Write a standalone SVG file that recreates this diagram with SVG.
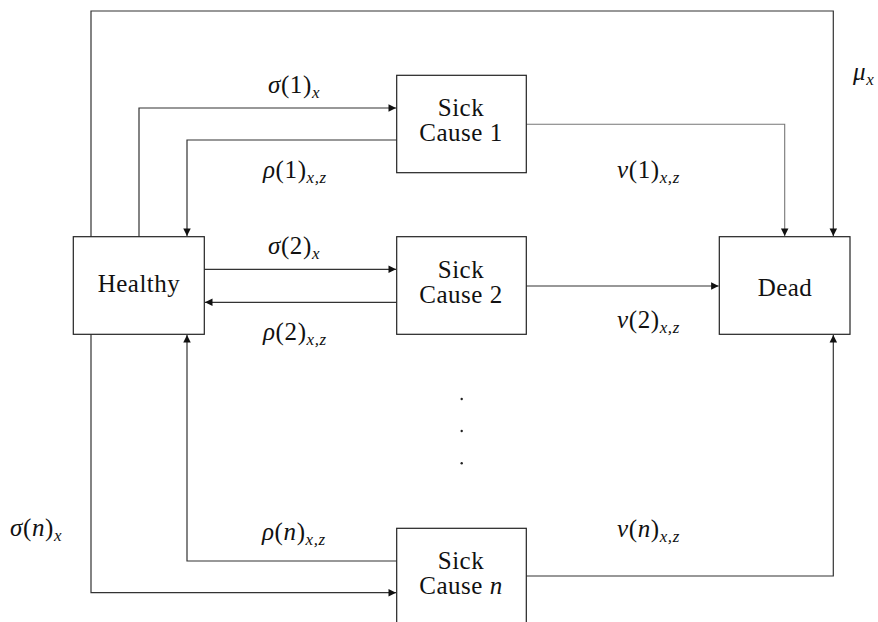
<svg xmlns="http://www.w3.org/2000/svg" width="878" height="622" viewBox="0 0 878 622">
<style>
.box{fill:#fff;stroke:#222;stroke-width:1.2}
text{font-family:'Liberation Serif','Times New Roman',Tinos,FreeSerif,'Nimbus Roman','Nimbus Roman No9 L','Noto Serif','Noto Serif CJK SC','Source Serif Pro','DejaVu Serif',serif;fill:#111}
.t{font-size:25px;letter-spacing:0.5px}
.m{font-size:25px;letter-spacing:0.6px}
.i{font-style:italic}
.s{font-size:17px;font-style:italic}
.c{fill:none;stroke:#333;stroke-width:1.2}
.c2{fill:none;stroke:#777;stroke-width:1.1}
</style>
<defs>
<marker id="ah" markerUnits="userSpaceOnUse" markerWidth="10" markerHeight="10" viewBox="-7 -4 8 8" refX="0" refY="0" orient="auto">
<path d="M-6,-3 L0,0 L-6,3 z" fill="#111"/>
</marker>
</defs>
<rect width="878" height="622" fill="#fff"/>
<g id="connectors">
<path class="c" d="M91,236.7 V11 H833.3 V236" marker-end="url(#ah)"/>
<path class="c" d="M139,236.7 V108 H396" marker-end="url(#ah)"/>
<path class="c" d="M396.7,140 H187 V236" marker-end="url(#ah)"/>
<path class="c2" d="M526.3,124.3 H784.7 V236" marker-end="url(#ah)"/>
<path class="c" d="M204.3,269.3 H396" marker-end="url(#ah)"/>
<path class="c" d="M396.7,302.3 H205" marker-end="url(#ah)"/>
<path class="c" d="M526.3,286 H718.6" marker-end="url(#ah)"/>
<path class="c" d="M91,334.3 V592.7 H396" marker-end="url(#ah)"/>
<path class="c" d="M396.7,561 H187 V335" marker-end="url(#ah)"/>
<path class="c" d="M526.3,576 H833.3 V335" marker-end="url(#ah)"/>
</g>
<g id="healthy">
<rect class="box" x="73.3" y="236.7" width="131" height="97.6"/>
<text class="t" x="139" y="292" text-anchor="middle">Healthy</text>
</g>
<g id="sick1">
<rect class="box" x="396.7" y="75.3" width="129.6" height="97.4"/>
<text class="t" x="461" y="116" text-anchor="middle">Sick</text>
<text class="t" x="461" y="141" text-anchor="middle">Cause 1</text>
</g>
<g id="sick2">
<rect class="box" x="396.7" y="236.7" width="129.6" height="97.6"/>
<text class="t" x="461" y="277.5" text-anchor="middle">Sick</text>
<text class="t" x="461" y="302.5" text-anchor="middle">Cause 2</text>
</g>
<g id="sickn">
<rect class="box" x="396.7" y="528.3" width="129.6" height="97.6"/>
<text class="t" x="461" y="569" text-anchor="middle">Sick</text>
<text class="t" x="461" y="594" text-anchor="middle">Cause <tspan class="i">n</tspan></text>
</g>
<g id="dead">
<rect class="box" x="719.3" y="236.7" width="130.7" height="97.6"/>
<text class="t" x="785" y="296" text-anchor="middle">Dead</text>
</g>
<g id="dots" fill="#222">
<circle cx="461.7" cy="399" r="1.2"/>
<circle cx="461.7" cy="431" r="1.2"/>
<circle cx="461.7" cy="463.3" r="1.2"/>
</g>
<g id="labels">
<text class="m" x="268" y="93"><tspan class="i">σ</tspan>(1)<tspan class="s" dy="5">x</tspan></text>
<text class="m" x="263" y="178"><tspan class="i">ρ</tspan>(1)<tspan class="s" dy="5">x,z</tspan></text>
<text class="m" x="617" y="178"><tspan class="i">ν</tspan>(1)<tspan class="s" dy="5">x,z</tspan></text>
<text class="m" x="853" y="80"><tspan class="i">μ</tspan><tspan class="s" dy="5">x</tspan></text>
<text class="m" x="268" y="254"><tspan class="i">σ</tspan>(2)<tspan class="s" dy="5">x</tspan></text>
<text class="m" x="263" y="340"><tspan class="i">ρ</tspan>(2)<tspan class="s" dy="5">x,z</tspan></text>
<text class="m" x="617" y="328"><tspan class="i">ν</tspan>(2)<tspan class="s" dy="5">x,z</tspan></text>
<text class="m" x="10" y="536"><tspan class="i">σ</tspan>(<tspan class="i">n</tspan>)<tspan class="s" dy="5">x</tspan></text>
<text class="m" x="262" y="540"><tspan class="i">ρ</tspan>(<tspan class="i">n</tspan>)<tspan class="s" dy="5">x,z</tspan></text>
<text class="m" x="617" y="537"><tspan class="i">ν</tspan>(<tspan class="i">n</tspan>)<tspan class="s" dy="5">x,z</tspan></text>
</g>
</svg>
